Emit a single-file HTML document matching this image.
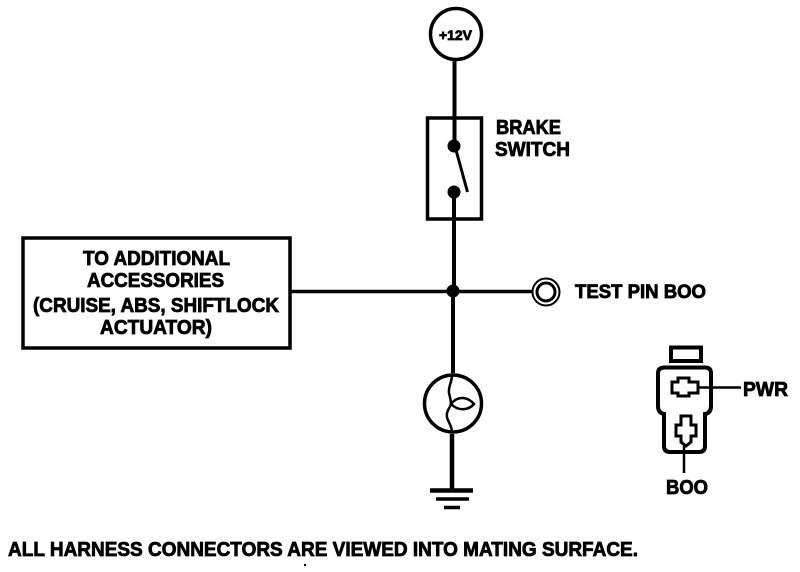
<!DOCTYPE html>
<html>
<head>
<meta charset="utf-8">
<style>
html,body{margin:0;padding:0;background:#fff;width:800px;height:572px;overflow:hidden}
svg{display:block}
text{font-family:"Liberation Sans",Arial,sans-serif;font-weight:bold;fill:#000;stroke:#000;stroke-width:.8}
</style>
</head>
<body>
<svg width="800" height="572" viewBox="0 0 800 572" xmlns="http://www.w3.org/2000/svg">
<g fill="none" stroke="#000" stroke-width="3.500">
  <circle cx="456" cy="34" r="25.500"/>
  <path d="M454.500 60V146" stroke-width="4"/>
  <rect x="427.500" y="118" width="54" height="101"/>
  <path d="M456 150L467.500 192" stroke-width="3"/>
  <path d="M454 192V291" stroke-width="4"/>
  <rect x="23" y="238" width="267" height="110"/>
  <path d="M291 291.500H533" stroke-width="3.500"/>
  <circle cx="546" cy="292" r="13.500" stroke-width="2"/>
  <circle cx="546" cy="292" r="9" stroke-width="3"/>
  <path d="M453 291V373" stroke-width="4"/>
  <circle cx="453" cy="403.500" r="28.500"/>
  <path d="M452 375C452 382 448 387 449 393C450 397 451 401 451 404C450 408 446 411 447 417C448 422 452 426 452 432" stroke-width="2.500"/>
  <path d="M451 404C458 395 468 397 474 404C468 411 458 411 451 404Z" stroke-width="2.500"/>
  <path d="M452 434V490" stroke-width="4.500"/>
  <path d="M430 490.500H473" stroke-width="4.500"/>
  <path d="M436 499H469" stroke-width="3.500"/>
  <path d="M444 507.500H460" stroke-width="3.500"/>
  <rect x="671" y="347.500" width="30" height="13.500" stroke-width="4"/>
  <path d="M665 367.500H705Q711 367.500 711 373V406Q711 413 705 414V446Q705 452 699 452H670Q664 452 664 446V414Q658 413 658 406V373Q658 367.500 665 367.500Z" stroke-width="4"/>
  <path d="M678 378H689V382H698V393H689V396H678V393H672V382H678Z" stroke-width="3"/>
  <path d="M681 416H691V425H696V436H691V442L686 446L681 442V436H676V425H681Z" stroke-width="3"/>
  <path d="M698 387.500H741" stroke-width="2.500"/>
  <path d="M684 446V473" stroke-width="2.500"/>
</g>
<circle cx="454" cy="146" r="6.500"/>
<circle cx="454" cy="192" r="6.500"/>
<circle cx="453" cy="291" r="6.500"/>
<rect x="304" y="564" width="2" height="2"/>

<text x="439" y="40" font-size="14" textLength="33" lengthAdjust="spacingAndGlyphs">+12V</text>
<text x="496" y="134" font-size="20" textLength="65" lengthAdjust="spacingAndGlyphs">BRAKE</text>
<text x="495" y="156" font-size="20" textLength="75" lengthAdjust="spacingAndGlyphs">SWITCH</text>
<text x="83" y="265" font-size="20" textLength="147" lengthAdjust="spacingAndGlyphs">TO ADDITIONAL</text>
<text x="87" y="287" font-size="20" textLength="137" lengthAdjust="spacingAndGlyphs">ACCESSORIES</text>
<text x="33" y="312" font-size="20" textLength="246" lengthAdjust="spacingAndGlyphs">(CRUISE, ABS, SHIFTLOCK</text>
<text x="100" y="334" font-size="20" textLength="112" lengthAdjust="spacingAndGlyphs">ACTUATOR)</text>
<text x="575" y="298" font-size="19" textLength="131" lengthAdjust="spacingAndGlyphs">TEST PIN BOO</text>
<text x="743" y="396" font-size="20" textLength="45" lengthAdjust="spacingAndGlyphs">PWR</text>
<text x="666" y="494" font-size="20" textLength="42" lengthAdjust="spacingAndGlyphs">BOO</text>
<text x="8" y="556" font-size="20" textLength="630" lengthAdjust="spacingAndGlyphs">ALL HARNESS CONNECTORS ARE VIEWED INTO MATING SURFACE.</text>
</svg>
</body>
</html>
